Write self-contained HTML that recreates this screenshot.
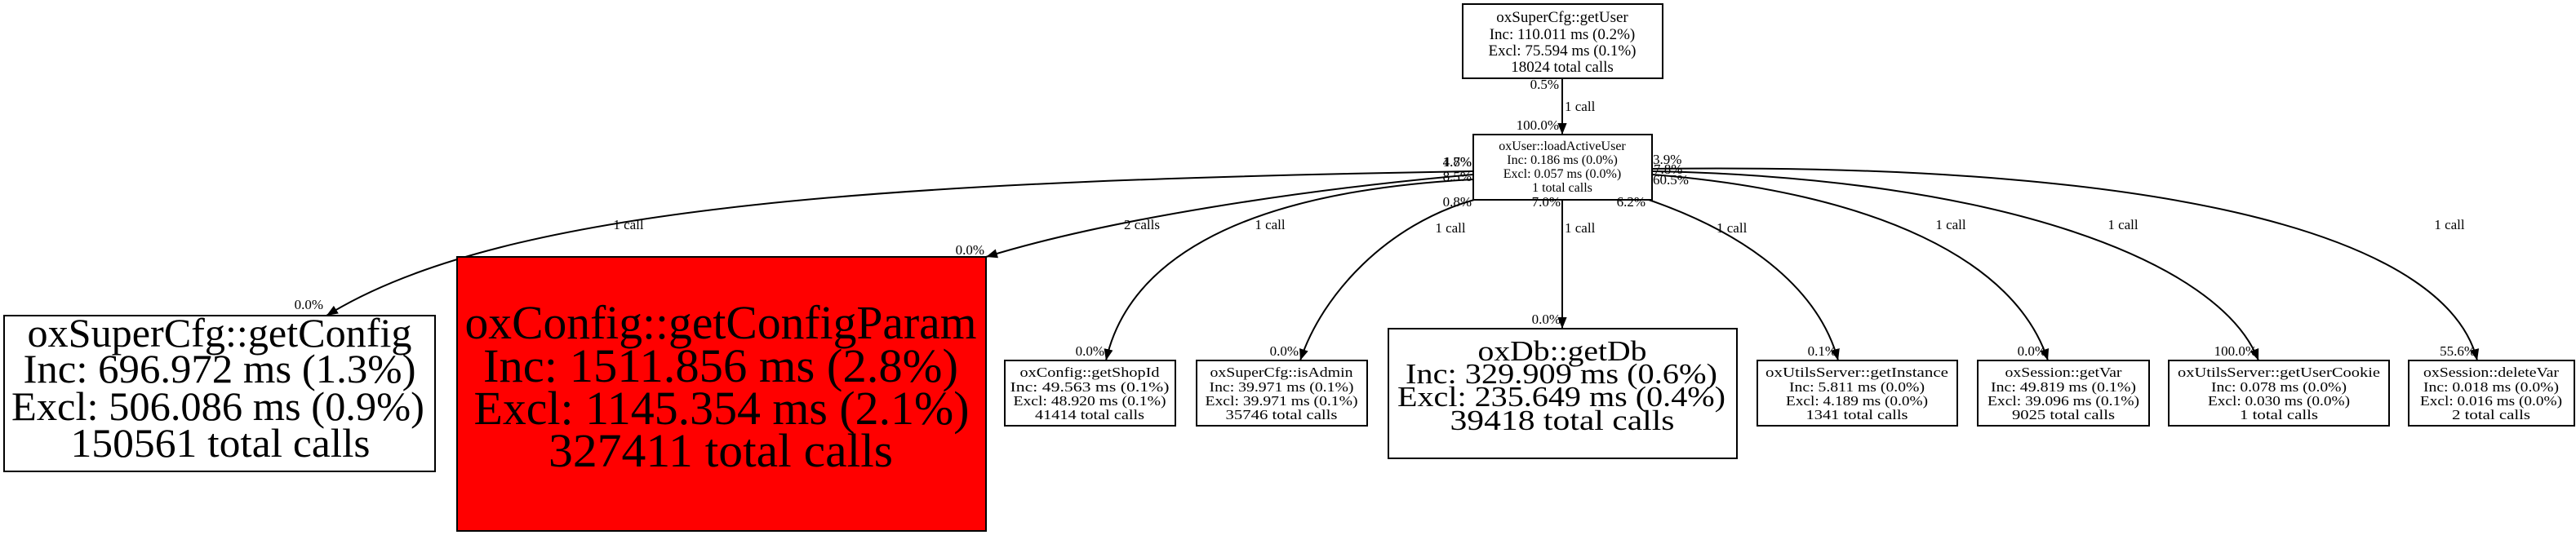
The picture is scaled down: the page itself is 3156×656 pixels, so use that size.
<!DOCTYPE html>
<html><head><meta charset="utf-8"><style>
html,body{margin:0;padding:0;background:#fff;}
svg{display:block;}
text{font-family:"Liberation Serif",serif;fill:#000;}
</style></head><body>
<svg width="3156" height="656" viewBox="0 0 3156 656" xmlns="http://www.w3.org/2000/svg">
<defs>
<marker id="b" viewBox="0 0 10 10" markerWidth="14" markerHeight="14" refX="10" refY="5" orient="auto" markerUnits="userSpaceOnUse"><path d="M0,1 L10,5 L0,9 z" fill="#000"/></marker></defs>
<g fill="none" stroke="#000" stroke-width="2">
<path d="M1914,96 L1914,165" marker-end="url(#b)"/>
<path d="M1805,210 C1100,222 620,250 400,387" marker-end="url(#b)"/>
<path d="M1805,214 C1600,232 1360,268 1208,315" marker-end="url(#b)"/>
<path d="M1805,220 C1500,236 1380,330 1355,442" marker-end="url(#b)"/>
<path d="M1806,245 C1700,275 1620,360 1593,442" marker-end="url(#b)"/>
<path d="M1914,245 L1914,403" marker-end="url(#b)"/>
<path d="M2020,245 C2150,290 2230,360 2252,442" marker-end="url(#b)"/>
<path d="M2024,214 C2300,236 2470,320 2509,442" marker-end="url(#b)"/>
<path d="M2024,210 C2450,218 2720,320 2767,442" marker-end="url(#b)"/>
<path d="M2024,207 C2700,198 3000,300 3035,442" marker-end="url(#b)"/>
</g>
<g stroke="#000" stroke-width="2">
<rect x="1792" y="5" width="245" height="91" fill="#fff"/>
<rect x="1805" y="165" width="219" height="80" fill="#fff"/>
<rect x="5" y="387" width="528" height="191" fill="#fff"/>
<rect x="560" y="315" width="648" height="336" fill="#f00"/>
<rect x="1231" y="442" width="209" height="80" fill="#fff"/>
<rect x="1466" y="442" width="209" height="80" fill="#fff"/>
<rect x="1701" y="403" width="427" height="159" fill="#fff"/>
<rect x="2153" y="442" width="245" height="80" fill="#fff"/>
<rect x="2423" y="442" width="210" height="80" fill="#fff"/>
<rect x="2657" y="442" width="270" height="80" fill="#fff"/>
<rect x="2951" y="442" width="203" height="80" fill="#fff"/>
</g>
<g text-anchor="middle" lengthAdjust="spacingAndGlyphs">
<g font-size="19"><text x="1914" y="27">oxSuperCfg::getUser</text><text x="1914" y="48">Inc: 110.011 ms (0.2%)</text><text x="1914" y="68">Excl: 75.594 ms (0.1%)</text><text x="1914" y="88">18024 total calls</text></g>
<g font-size="16"><text x="1914" y="184">oxUser::loadActiveUser</text><text x="1914" y="201">Inc: 0.186 ms (0.0%)</text><text x="1914" y="218">Excl: 0.057 ms (0.0%)</text><text x="1914" y="235">1 total calls</text></g>
<g font-size="50">
<text x="269" y="425" textLength="471" lengthAdjust="spacingAndGlyphs">oxSuperCfg::getConfig</text>
<text x="269" y="469" textLength="481" lengthAdjust="spacingAndGlyphs">Inc: 696.972 ms (1.3%)</text>
<text x="267" y="515" textLength="506" lengthAdjust="spacingAndGlyphs">Excl: 506.086 ms (0.9%)</text>
<text x="270" y="560" textLength="367" lengthAdjust="spacingAndGlyphs">150561 total calls</text></g>
<g font-size="58">
<text x="883" y="415" textLength="627" lengthAdjust="spacingAndGlyphs">oxConfig::getConfigParam</text>
<text x="883" y="468" textLength="582" lengthAdjust="spacingAndGlyphs">Inc: 1511.856 ms (2.8%)</text>
<text x="884" y="520" textLength="607" lengthAdjust="spacingAndGlyphs">Excl: 1145.354 ms (2.1%)</text>
<text x="883" y="572" textLength="422" lengthAdjust="spacingAndGlyphs">327411 total calls</text></g>
<g font-size="35">
<text x="1914" y="442" textLength="207" lengthAdjust="spacingAndGlyphs">oxDb::getDb</text>
<text x="1913" y="470" textLength="382" lengthAdjust="spacingAndGlyphs">Inc: 329.909 ms (0.6%)</text>
<text x="1913" y="498" textLength="402" lengthAdjust="spacingAndGlyphs">Excl: 235.649 ms (0.4%)</text>
<text x="1914" y="527" textLength="275" lengthAdjust="spacingAndGlyphs">39418 total calls</text></g>
<g font-size="17">
<text x="1335" y="462" textLength="171" lengthAdjust="spacingAndGlyphs">oxConfig::getShopId</text><text x="1335" y="480" textLength="195" lengthAdjust="spacingAndGlyphs">Inc: 49.563 ms (0.1%)</text><text x="1335" y="497" textLength="187" lengthAdjust="spacingAndGlyphs">Excl: 48.920 ms (0.1%)</text><text x="1335" y="514" textLength="134" lengthAdjust="spacingAndGlyphs">41414 total calls</text>
<text x="1570" y="462" textLength="175" lengthAdjust="spacingAndGlyphs">oxSuperCfg::isAdmin</text><text x="1570" y="480" textLength="177" lengthAdjust="spacingAndGlyphs">Inc: 39.971 ms (0.1%)</text><text x="1570" y="497" textLength="187" lengthAdjust="spacingAndGlyphs">Excl: 39.971 ms (0.1%)</text><text x="1570" y="514" textLength="137" lengthAdjust="spacingAndGlyphs">35746 total calls</text>
<text x="2275" y="462" textLength="224" lengthAdjust="spacingAndGlyphs">oxUtilsServer::getInstance</text><text x="2275" y="480" textLength="166" lengthAdjust="spacingAndGlyphs">Inc: 5.811 ms (0.0%)</text><text x="2275" y="497" textLength="174" lengthAdjust="spacingAndGlyphs">Excl: 4.189 ms (0.0%)</text><text x="2275" y="514" textLength="125" lengthAdjust="spacingAndGlyphs">1341 total calls</text>
<text x="2528" y="462" textLength="143" lengthAdjust="spacingAndGlyphs">oxSession::getVar</text><text x="2528" y="480" textLength="178" lengthAdjust="spacingAndGlyphs">Inc: 49.819 ms (0.1%)</text><text x="2528" y="497" textLength="186" lengthAdjust="spacingAndGlyphs">Excl: 39.096 ms (0.1%)</text><text x="2528" y="514" textLength="126" lengthAdjust="spacingAndGlyphs">9025 total calls</text>
<text x="2792" y="462" textLength="248" lengthAdjust="spacingAndGlyphs">oxUtilsServer::getUserCookie</text><text x="2792" y="480" textLength="166" lengthAdjust="spacingAndGlyphs">Inc: 0.078 ms (0.0%)</text><text x="2792" y="497" textLength="174" lengthAdjust="spacingAndGlyphs">Excl: 0.030 ms (0.0%)</text><text x="2792" y="514" textLength="96" lengthAdjust="spacingAndGlyphs">1 total calls</text>
<text x="3052" y="462" textLength="166" lengthAdjust="spacingAndGlyphs">oxSession::deleteVar</text><text x="3052" y="480" textLength="166" lengthAdjust="spacingAndGlyphs">Inc: 0.018 ms (0.0%)</text><text x="3052" y="497" textLength="174" lengthAdjust="spacingAndGlyphs">Excl: 0.016 ms (0.0%)</text><text x="3052" y="514" textLength="96" lengthAdjust="spacingAndGlyphs">2 total calls</text>
</g>
</g>
<g font-size="17">
<text x="1910" y="109" text-anchor="end">0.5%</text>
<text x="1917" y="136">1 call</text>
<text x="1910" y="159" text-anchor="end">100.0%</text>
<text x="1803" y="204" text-anchor="end">4.7%</text>
<text x="1803" y="204" text-anchor="end">1.8%</text>
<text x="1803" y="222" text-anchor="end">8.5%</text>
<text x="1803" y="253" text-anchor="end">0.8%</text>
<text x="1912" y="253" text-anchor="end">7.0%</text>
<text x="2016" y="253" text-anchor="end">6.2%</text>
<text x="2025" y="201">3.9%</text>
<text x="2026" y="213">7.8%</text>
<text x="2025" y="226">60.5%</text>
<text x="770" y="281" text-anchor="middle">1 call</text>
<text x="1399" y="281" text-anchor="middle">2 calls</text>
<text x="1556" y="281" text-anchor="middle">1 call</text>
<text x="1777" y="285" text-anchor="middle">1 call</text>
<text x="1917" y="285">1 call</text>
<text x="2103" y="285">1 call</text>
<text x="2390" y="281" text-anchor="middle">1 call</text>
<text x="2601" y="281" text-anchor="middle">1 call</text>
<text x="3001" y="281" text-anchor="middle">1 call</text>
<text x="396" y="379" text-anchor="end">0.0%</text>
<text x="1206" y="312" text-anchor="end">0.0%</text>
<text x="1353" y="436" text-anchor="end">0.0%</text>
<text x="1591" y="436" text-anchor="end">0.0%</text>
<text x="1912" y="397" text-anchor="end">0.0%</text>
<text x="2250" y="436" text-anchor="end">0.1%</text>
<text x="2507" y="436" text-anchor="end">0.0%</text>
<text x="2765" y="436" text-anchor="end">100.0%</text>
<text x="3033" y="436" text-anchor="end">55.6%</text>
</g>
</svg>
</body></html>
